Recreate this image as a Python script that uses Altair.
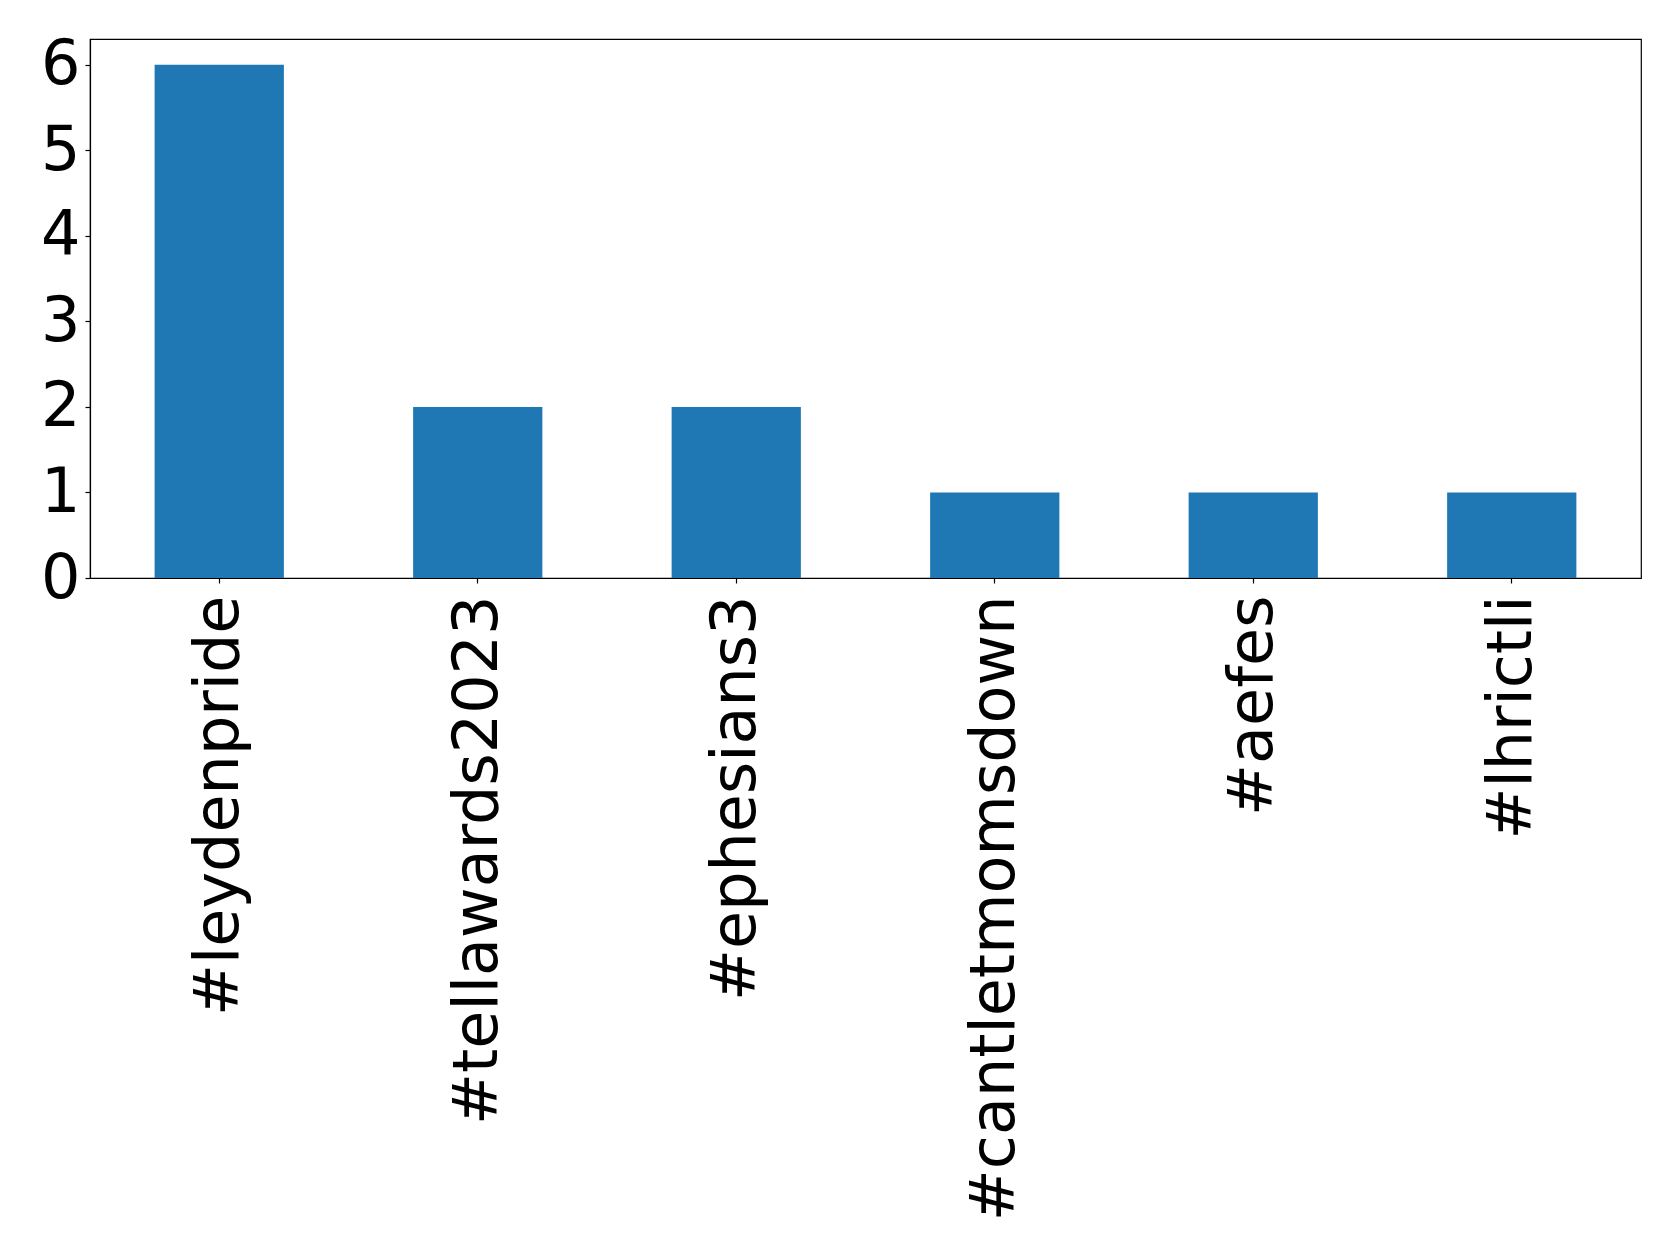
import altair as alt
import pandas as pd

hashtags = ["#leydenpride", "#tellawards2023", "#ephesians3", "#cantletmomsdown", "#aefes", "#lhrictli"]
counts = [6, 2, 2, 1, 1, 1]

df = pd.DataFrame({"hashtag": hashtags, "count": counts})

chart = alt.Chart(df).mark_bar(color="#1f77b4").encode(
    x=alt.X("hashtag:N", sort=hashtags,
            scale=alt.Scale(paddingInner=0.5, paddingOuter=0.25),
            axis=alt.Axis(title=None, labelAngle=270, labelFontSize=62,
                          labelFont="DejaVu Sans", labelColor="black",
                          labelPadding=12, tickSize=5, tickColor="black",
                          domainColor="black", labelLimit=0)),
    y=alt.Y("count:Q", scale=alt.Scale(domain=[0, 6.3], nice=False),
            axis=alt.Axis(title=None, values=[0, 1, 2, 3, 4, 5, 6], labelFontSize=62,
                          labelFont="DejaVu Sans", labelColor="black",
                          labelPadding=5, tickSize=5, tickColor="black",
                          domainColor="black", grid=False, format="d")),
).properties(
    width=1551, height=539,
    autosize=alt.AutoSizeParams(type="none"),
    padding={"left": 82, "top": 31, "right": 30, "bottom": 660},
).configure_view(stroke="black", strokeWidth=1.2).configure_axis(domainWidth=1.2, tickWidth=1.2)

chart.save("out.html", embed_options={"renderer": "svg", "actions": False})
